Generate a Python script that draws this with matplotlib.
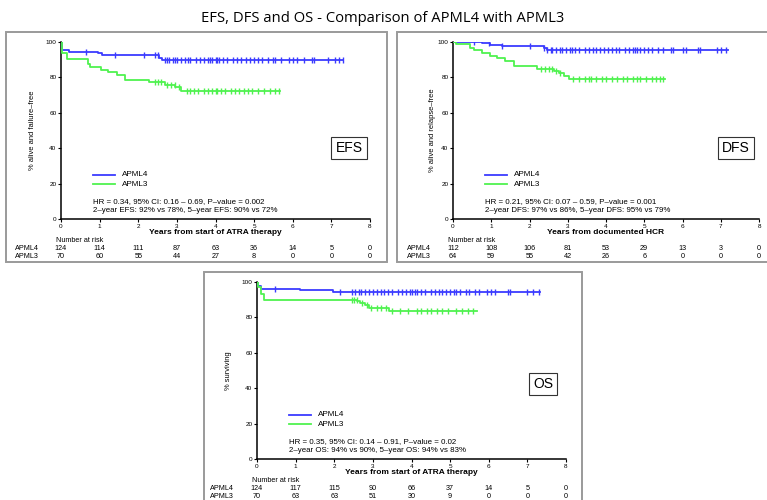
import numpy as np
import matplotlib
matplotlib.use("Agg")
import matplotlib.pyplot as plt
from matplotlib.lines import Line2D
from matplotlib.patches import Rectangle
from matplotlib.transforms import blended_transform_factory

plt.rcParams['font.family'] = ['Liberation Sans', 'DejaVu Sans']

W, H = 767, 500
BLUE = '#3b3bff'
GREEN = '#4ff24f'

groups = ['APML4', 'APML3']
years = [0, 1, 2, 3, 4, 5, 6, 7, 8]

# Kaplan-Meier steps: drop times (years) and level after each drop (%)
efs_apml4_t = [0, 0.03, 0.2, 0.97, 1.06, 1.53, 2.53, 2.61]
efs_apml4_s = [100, 95.3, 94.3, 93.8, 92.8, 92.4, 91.2, 90.0]
efs_apml4_end = 7.31
efs_apml3_t = [0, 0.03, 0.15, 0.7, 0.76, 1.04, 1.22, 1.45, 1.66, 2.27, 2.7, 2.96, 3.1]
efs_apml3_s = [100, 94.0, 90.4, 87.5, 85.8, 84.3, 82.8, 81.5, 78.7, 77.4, 75.8, 74.5, 72.5]
efs_apml3_end = 5.67

dfs_apml4_t = [0, 0.77, 0.98, 1.28, 2.37, 2.45]
dfs_apml4_s = [100, 99.2, 98.5, 97.5, 96.6, 95.6]
dfs_apml4_end = 7.2
dfs_apml3_t = [0, 0.09, 0.45, 0.54, 0.76, 0.98, 1.16, 1.37, 1.6, 2.2, 2.64, 2.78, 2.9, 3.02]
dfs_apml3_s = [100, 98.7, 96.6, 95.3, 93.8, 92.3, 91.0, 89.0, 86.6, 85.0, 83.4, 82.5, 81.0, 79.1]
dfs_apml3_end = 5.55

os_apml4_t = [0, 0.03, 0.1, 1.12, 1.98]
os_apml4_s = [100, 97.5, 96.3, 95.3, 94.4]
os_apml4_end = 7.33
os_apml3_t = [0, 0.03, 0.1, 0.17, 2.59, 2.67, 2.8, 2.89, 3.41]
os_apml3_s = [100, 97.0, 93.0, 90.0, 89.1, 88.3, 87.2, 85.5, 83.5]
os_apml3_end = 5.69

# censoring times (years)
efs_apml4_c = [0.66, 1.39, 2.16, 2.44, 2.5, 2.7, 2.75, 2.8, 2.9, 2.95, 3.0, 3.1, 3.2, 3.3, 3.35,
               3.5, 3.6, 3.7, 3.8, 3.85, 3.9, 4.0, 4.05, 4.1, 4.2, 4.3, 4.45, 4.55, 4.65, 4.8,
               4.9, 5.0, 5.1, 5.2, 5.35, 5.5, 5.55, 5.7, 5.9, 6.0, 6.1, 6.3, 6.5, 6.55, 6.9,
               7.1, 7.2, 7.3]
efs_apml3_c = [2.44, 2.5, 2.6, 2.75, 2.85, 2.95, 3.05, 3.25, 3.35, 3.45, 3.55, 3.7, 3.8, 3.9,
               4.0, 4.05, 4.15, 4.25, 4.4, 4.5, 4.6, 4.75, 4.85, 4.95, 5.1, 5.25, 5.4, 5.55, 5.65]
dfs_apml4_c = [0.54, 0.93, 1.28, 2.02, 2.37, 2.45, 2.55, 2.6, 2.7, 2.8, 2.85, 2.95, 3.05, 3.1,
               3.2, 3.3, 3.45, 3.55, 3.65, 3.75, 3.85, 3.95, 4.05, 4.15, 4.25, 4.35, 4.5, 4.6,
               4.7, 4.75, 4.8, 4.9, 5.0, 5.1, 5.2, 5.35, 5.5, 5.7, 5.75, 6.0, 6.1, 6.4, 6.45,
               6.9, 7.0, 7.15]
dfs_apml3_c = [2.3, 2.4, 2.5, 2.6, 2.7, 2.8, 3.15, 3.3, 3.45, 3.55, 3.6, 3.75, 3.9, 4.0, 4.15,
               4.3, 4.45, 4.55, 4.7, 4.8, 4.9, 5.05, 5.2, 5.3, 5.4, 5.5]
os_apml4_c = [0.47, 2.14, 2.45, 2.55, 2.65, 2.7, 2.8, 2.9, 3.0, 3.1, 3.2, 3.3, 3.4, 3.5, 3.65,
              3.75, 3.85, 3.95, 4.0, 4.1, 4.15, 4.25, 4.35, 4.5, 4.6, 4.7, 4.8, 4.9, 5.0, 5.1,
              5.15, 5.25, 5.4, 5.5, 5.65, 5.75, 5.95, 6.05, 6.15, 6.5, 6.55, 7.0, 7.15, 7.3]
os_apml3_c = [2.45, 2.5, 2.58, 2.72, 2.85, 2.95, 3.1, 3.2, 3.33, 3.5, 3.7, 3.9, 4.15, 4.25,
              4.4, 4.5, 4.65, 4.8, 4.95, 5.15, 5.3, 5.45, 5.6]

# number at risk at years 0..8
efs_risk = [[124, 114, 111, 87, 63, 36, 14, 5, 0], [70, 60, 55, 44, 27, 8, 0, 0, 0]]
dfs_risk = [[112, 108, 106, 81, 53, 29, 13, 3, 0], [64, 59, 55, 42, 26, 6, 0, 0, 0]]
os_risk = [[124, 117, 115, 90, 66, 37, 14, 5, 0], [70, 63, 63, 51, 30, 9, 0, 0, 0]]

panels = [
    dict(name='EFS', ylabel='% alive and failure\u2013free',
         xlabel='Years from start of ATRA therapy',
         stats=['HR = 0.34, 95% CI: 0.16 \u2013 0.69, P\u2013value = 0.002',
                '2\u2013year EFS: 92% vs 78%, 5\u2013year EFS: 90% vs 72%'],
         curves=[(efs_apml4_t, efs_apml4_s, efs_apml4_end, efs_apml4_c),
                 (efs_apml3_t, efs_apml3_s, efs_apml3_end, efs_apml3_c)],
         risk=efs_risk, ax=(61, 42, 370, 219), box=(6, 32, 387, 262),
         rowx=15, ylx=33, tag=(349, 148)),
    dict(name='DFS', ylabel='% alive and relapse\u2013free',
         xlabel='Years from documented HCR',
         stats=['HR = 0.21, 95% CI: 0.07 \u2013 0.59, P\u2013value = 0.001',
                '2\u2013year DFS: 97% vs 86%, 5\u2013year DFS: 95% vs 79%'],
         curves=[(dfs_apml4_t, dfs_apml4_s, dfs_apml4_end, dfs_apml4_c),
                 (dfs_apml3_t, dfs_apml3_s, dfs_apml3_end, dfs_apml3_c)],
         risk=dfs_risk, ax=(453, 42, 759, 219), box=(397, 32, 768, 262),
         rowx=407, ylx=433, tag=(736, 148)),
    dict(name='OS', ylabel='% surviving',
         xlabel='Years from start of ATRA therapy',
         stats=['HR = 0.35, 95% CI: 0.14 \u2013 0.91, P\u2013value = 0.02',
                '2\u2013year OS: 94% vs 90%, 5\u2013year OS: 94% vs 83%'],
         curves=[(os_apml4_t, os_apml4_s, os_apml4_end, os_apml4_c),
                 (os_apml3_t, os_apml3_s, os_apml3_end, os_apml3_c)],
         risk=os_risk, ax=(257, 282, 566, 459), box=(204, 272, 582, 505),
         rowx=210, ylx=229, tag=(543, 384)),
]


def fx(x):
    return x / W


def fy(y):
    return 1 - y / H


fig = plt.figure(figsize=(W / 100, H / 100), dpi=100)
fig.text(fx(383), fy(18), 'EFS, DFS and OS - Comparison of APML4 with APML3',
         ha='center', va='center', fontsize=10.6, family=['Open Sans', 'DejaVu Sans'])

for p in panels:
    x0, y0, x1, y1 = p['box']
    fig.add_artist(Rectangle((fx(x0), fy(y1)), fx(x1 - x0), (y1 - y0) / H,
                             transform=fig.transFigure, fill=False,
                             edgecolor='#9a9a9a', linewidth=1.4))

    l, t, r, b = p['ax']
    ax = fig.add_axes([fx(l), fy(b), fx(r - l), (b - t) / H])
    for (tt, ss, end, cens), color in zip(p['curves'], [BLUE, GREEN]):
        xs = list(tt) + [end]
        ys = list(ss) + [ss[-1]]
        ax.step(xs, ys, where='post', color=color, lw=1.3, zorder=3)
        idx = np.searchsorted(tt, cens, side='right') - 1
        ax.plot(cens, np.array(ss)[idx], ls='none', marker='|', ms=5,
                mew=1.0, color=color, zorder=3)

    ax.set_xlim(0, 8)
    ax.set_ylim(0, 100)
    ax.set_xticks(years)
    ax.set_yticks([0, 20, 40, 60, 80, 100])
    ax.tick_params(labelsize=4.6, length=2.5, width=0.8, pad=0.8)
    for s in ('top', 'right'):
        ax.spines[s].set_visible(False)
    for s in ('left', 'bottom'):
        ax.spines[s].set_linewidth(1.1)
    ax.patch.set_alpha(0)

    fig.text(fx((l + r) / 2), fy(b + 13.5), p['xlabel'], ha='center', va='center',
             fontsize=6.0, fontweight='bold')
    fig.text(fx(p['ylx']), fy((t + b) / 2), p['ylabel'], ha='center', va='center',
             rotation=90, fontsize=5.4)

    # legend
    lx = l + 32
    for i, (g, color) in enumerate(zip(groups, [BLUE, GREEN])):
        yy = b - 44 + i * 9
        fig.add_artist(Line2D([fx(lx), fx(lx + 22)], [fy(yy), fy(yy)], color=color,
                              lw=1.3, transform=fig.transFigure))
        fig.text(fx(lx + 29), fy(yy), g, ha='left', va='center', fontsize=5.9)
    for i, line in enumerate(p['stats']):
        fig.text(fx(lx), fy(b - 17 + i * 8.5), line, ha='left', va='center', fontsize=5.7)

    # tag box
    fig.text(fx(p['tag'][0]), fy(p['tag'][1]), p['name'], ha='center', va='center',
             fontsize=10, bbox=dict(boxstyle='square,pad=0.3', fc='white',
                                    ec='#333333', lw=0.8))

    # number at risk
    trans = blended_transform_factory(ax.transData, fig.transFigure)
    ax.text(-0.12, fy(b + 22), 'Number at risk', transform=trans, ha='left',
            va='center', fontsize=5.2, clip_on=False)
    for i, (g, row) in enumerate(zip(groups, p['risk'])):
        yy = fy(b + 30 + i * 8)
        fig.text(fx(p['rowx']), yy, g, ha='left', va='center', fontsize=5.2)
        for yr, n in zip(years, row):
            ax.text(yr, yy, str(n), transform=trans, ha='center', va='center',
                    fontsize=5.2, clip_on=False)

fig.savefig('out.png', dpi=100)
